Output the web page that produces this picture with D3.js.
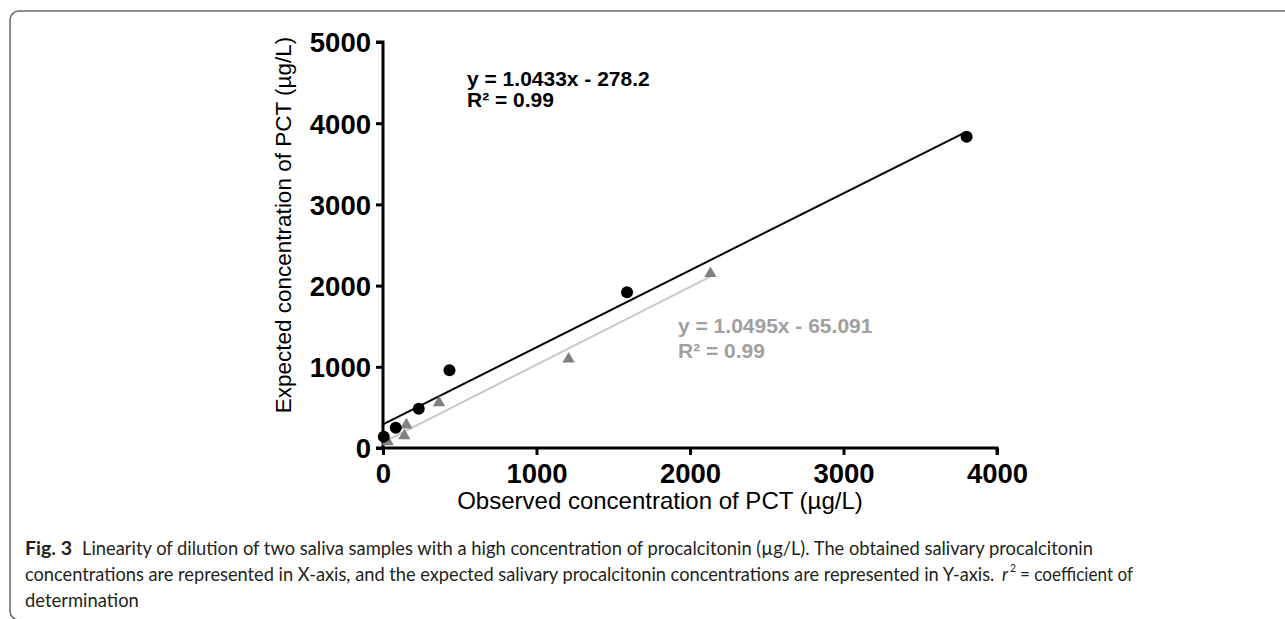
<!DOCTYPE html>
<html>
<head>
<meta charset="utf-8">
<script src="https://cdn.jsdelivr.net/npm/d3@7"></script>
<style>
  html, body { margin: 0; padding: 0; background: #fff; }
  svg { display: block; }
  .tick text { font-family: "Liberation Sans", Arial, sans-serif; font-weight: bold; }
</style>
</head>
<body>
<svg id="chart" width="1285" height="619"></svg>
<script>
// ---- data ----
const sample1X = [5, 83, 233, 433, 1590, 3802];
const sample1Y = [140, 250, 484, 958, 1917, 3834];
const sample2X = [31, 139, 152, 365, 1209, 2133];
const sample2Y = [78, 150, 285, 558, 1096, 2149];
const fit1X = [0, 3790];
const fit1Y = [292, 3885];
const fit2X = [20, 2133];
const fit2Y = [88, 2110];
const xTicks = [0, 1000, 2000, 3000, 4000];
const yTicks = [0, 1000, 2000, 3000, 4000, 5000];
const eq1 = ["y = 1.0433x - 278.2", "R\u00B2 = 0.99"];
const eq2 = ["y = 1.0495x - 65.091", "R\u00B2 = 0.99"];
const xTitle = "Observed concentration of PCT (\u00B5g/L)";
const yTitle = "Expected concentration of PCT (\u00B5g/L)";
const captionBold = "Fig. 3";
const captionLines = [
  "Linearity of dilution of two saliva samples with a high concentration of procalcitonin (\u00B5g/L). The obtained salivary procalcitonin",
  "concentrations are represented in X-axis, and the expected salivary procalcitonin concentrations are represented in Y-axis.",
  "determination"
];
const captionTail = ["r", "2", "= coefficient of"];

const svg = d3.select("#chart");
const font = '"Liberation Sans", Arial, sans-serif';

// frame
svg.append("rect")
  .attr("x", 10).attr("y", 11).attr("width", 1320).attr("height", 609)
  .attr("rx", 9).attr("ry", 9)
  .attr("fill", "none").attr("stroke", "#6a6a6a").attr("stroke-width", 1.5);

const x = d3.scaleLinear().domain([0, 4000]).range([383, 997]);
const y = d3.scaleLinear().domain([0, 5000]).range([448, 42]);

// axes
const xAxis = svg.append("g").attr("transform", `translate(0,${y(0)})`)
  .call(d3.axisBottom(x).tickValues(xTicks).tickSize(7).tickPadding(8).tickFormat(d3.format("d")));
const yAxis = svg.append("g").attr("transform", `translate(${x(0)},0)`)
  .call(d3.axisLeft(y).tickValues(yTicks).tickSize(7).tickPadding(5).tickFormat(d3.format("d")));

[xAxis, yAxis].forEach(g => {
  g.select(".domain").attr("stroke", "#000").attr("stroke-width", 3);
  g.selectAll(".tick line").attr("stroke", "#000").attr("stroke-width", 3);
  g.selectAll(".tick text").attr("fill", "#000").attr("font-size", 27.5);
});
xAxis.select(".domain").attr("d", `M${x(0) - 7},0H${x(4000)}V7`);
yAxis.select(".domain").attr("d", `M-7,${y(5000)}H0V${y(0)}`);
yAxis.selectAll(".tick text").attr("dy", "0.36em");
xAxis.selectAll(".tick text").attr("dy", "0.72em");

// axis titles
svg.append("text")
  .attr("x", 660).attr("y", 509)
  .attr("text-anchor", "middle")
  .attr("font-family", font).attr("font-size", 24)
  .text(xTitle);
svg.append("text")
  .attr("transform", "translate(291,225) rotate(-90)")
  .attr("text-anchor", "middle")
  .attr("font-family", font).attr("font-size", 22.5)
  .text(yTitle);

// fit lines
const line = d3.line().x(d => x(d[0])).y(d => y(d[1]));
svg.append("path")
  .datum(fit2X.map((v, i) => [v, fit2Y[i]]))
  .attr("d", line).attr("fill", "none").attr("stroke", "#c8c8c8").attr("stroke-width", 2);
svg.append("path")
  .datum(fit1X.map((v, i) => [v, fit1Y[i]]))
  .attr("d", line).attr("fill", "none").attr("stroke", "#000").attr("stroke-width", 2);

// points
svg.append("g").selectAll("path")
  .data(sample2X.map((v, i) => [v, sample2Y[i]]))
  .join("path")
  .attr("transform", d => `translate(${x(d[0])},${y(d[1])})`)
  .attr("d", d3.symbol(d3.symbolTriangle, 65))
  .attr("fill", "#808080");
svg.append("g").selectAll("circle")
  .data(sample1X.map((v, i) => [v, sample1Y[i]]))
  .join("circle")
  .attr("cx", d => x(d[0])).attr("cy", d => y(d[1])).attr("r", 6)
  .attr("fill", "#000");

// equations
const e1 = svg.append("text").attr("font-family", font).attr("font-size", 21)
  .attr("font-weight", "bold").attr("fill", "#000");
eq1.forEach((t, i) => e1.append("tspan").attr("x", 467).attr("y", 86 + i * 21).text(t));
const e2 = svg.append("text").attr("font-family", font).attr("font-size", 21)
  .attr("font-weight", "bold").attr("fill", "#a0a0a0");
eq2.forEach((t, i) => e2.append("tspan").attr("x", 678).attr("y", 333 + i * 25).text(t));

// caption: each piece is scaled horizontally to the measured width
const capFont = 'Lato, "Open Sans", sans-serif';
const capColor = "#231f20";
function capText(str, x0, y0, w, opts = {}) {
  const t = svg.append("text").attr("x", 0).attr("y", 0)
    .attr("font-family", capFont).attr("font-size", opts.size || 19)
    .attr("font-weight", opts.bold ? "bold" : "normal")
    .attr("font-style", opts.italic ? "italic" : "normal")
    .attr("fill", capColor).text(str);
  const nat = t.node().getComputedTextLength() || w;
  t.attr("transform", `translate(${x0},${y0}) scale(${w / nat},1)`);
  return t;
}
capText(captionBold, 25, 555, 47, { bold: true });
capText(captionLines[0], 82, 555, 1012);
capText(captionLines[1], 25, 581, 970);
capText(captionTail[0], 1002, 581, 6, { italic: true });
capText(captionTail[1], 1010, 572, 6, { size: 11 });
capText(captionTail[2], 1020, 581, 113);
capText(captionLines[2], 25, 607, 114);
</script>
</body>
</html>
